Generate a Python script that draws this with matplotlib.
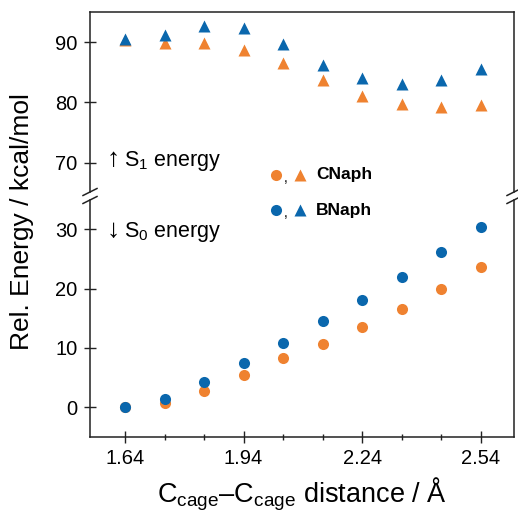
import matplotlib
matplotlib.use("Agg")
import matplotlib.pyplot as plt
from matplotlib.lines import Line2D
from matplotlib.ticker import FixedLocator

plt.rcParams["font.family"] = ["Liberation Sans", "DejaVu Sans"]
plt.rcParams["mathtext.fontset"] = "custom"
plt.rcParams["mathtext.rm"] = "Liberation Sans"
plt.rcParams["mathtext.it"] = "Liberation Sans:italic"
plt.rcParams["mathtext.bf"] = "Liberation Sans:bold"

# C_cage-C_cage distance (Å)
distance = [1.64, 1.74, 1.84, 1.94, 2.04, 2.14, 2.24, 2.34, 2.44, 2.54]

# S1 energies (kcal/mol)
s1_cnaph = [90.4, 89.9, 89.8, 88.7, 86.5, 83.7, 81.1, 79.7, 79.2, 79.6]
s1_bnaph = [90.5, 91.2, 92.6, 92.4, 89.7, 86.2, 84.0, 83.1, 83.7, 85.6]

# S0 energies (kcal/mol)
s0_cnaph = [0.0, 0.7, 2.8, 5.5, 8.3, 10.7, 13.5, 16.6, 19.9, 23.6]
s0_bnaph = [0.0, 1.4, 4.2, 7.5, 10.8, 14.5, 18.1, 22.0, 26.1, 30.3]

major_x = [1.64, 1.94, 2.24, 2.54]
minor_x = [1.74, 1.84, 2.04, 2.14, 2.34, 2.44]
top_yticks = [70, 80, 90]
bottom_yticks = [0, 10, 20, 30]

c_orange = "#EF8230"
c_blue = "#0A67AD"
c_axis = "#222222"

W, H = 518, 515
fig = plt.figure(figsize=(W / 100, H / 100), dpi=100)

left, right = 90 / W, 514 / W
ax_top = fig.add_axes([left, (H - 192) / H, right - left, 180 / H])
ax_bot = fig.add_axes([left, (H - 437) / H, right - left, 237 / H])

ms_tri = 9
ms_circ = 8
ax_top.plot(distance, s1_cnaph, ls="none", marker="^", ms=ms_tri, color=c_orange, mec="none")
ax_top.plot(distance, s1_bnaph, ls="none", marker="^", ms=ms_tri, color=c_blue, mec="none")
ax_bot.plot(distance, s0_cnaph, ls="none", marker="o", ms=ms_circ, color=c_orange, mec="none")
ax_bot.plot(distance, s0_bnaph, ls="none", marker="o", ms=ms_circ, color=c_blue, mec="none")

xlim = (1.5514, 2.6243)
ax_top.set_xlim(*xlim)
ax_bot.set_xlim(*xlim)
ax_top.set_ylim(65.1, 95.0)
ax_bot.set_ylim(-5.0, 34.9)

for ax in (ax_top, ax_bot):
    for s in ax.spines.values():
        s.set_color(c_axis)
        s.set_linewidth(1.1)
    ax.tick_params(axis="y", direction="inout", length=8, width=1.0,
                   color=c_axis, labelsize=14.5, pad=5, right=False)
ax_top.spines["bottom"].set_visible(False)
ax_bot.spines["top"].set_visible(False)
ax_top.set_yticks(top_yticks)
ax_bot.set_yticks(bottom_yticks)
ax_top.set_xticks([])
ax_top.tick_params(axis="x", which="both", bottom=False, top=False, labelbottom=False)

ax_bot.xaxis.set_major_locator(FixedLocator(major_x))
ax_bot.xaxis.set_minor_locator(FixedLocator(minor_x))
ax_bot.set_xticklabels([f"{v:.2f}" for v in major_x])
ax_bot.tick_params(axis="x", which="major", direction="inout", length=8, width=1.0,
                   color=c_axis, labelsize=14.5, pad=5, top=False)
ax_bot.tick_params(axis="x", which="minor", direction="inout", length=5, width=1.0,
                   color=c_axis, top=False)

ax_bot.set_xlabel(r"C$_\mathrm{cage}$–C$_\mathrm{cage}$ distance / Å", fontsize=19.5, labelpad=5)
fig.text(22 / W, (H - 222) / H, "Rel. Energy / kcal/mol", rotation=90,
         fontsize=19, ha="center", va="center")

# axis break marks
for xb in (90, 514):
    for yb in (192, 200):
        fig.add_artist(Line2D([(xb - 7) / W, (xb + 7) / W],
                              [(H - yb - 3.5) / H, (H - yb + 3.5) / H],
                              transform=fig.transFigure, color=c_axis, lw=1.1))

# state annotations
for arrow, label, y_arrow, y_base in ((r"$\uparrow$", r"S$_1$ energy", 158.7, 166),
                                      (r"$\downarrow$", r"S$_0$ energy", 230, 237)):
    fig.text(110.5 / W, (H - y_arrow) / H, arrow, fontsize=19, ha="center", va="center")
    fig.text(124 / W, (H - y_base) / H, label, fontsize=15.5, va="baseline")

# legend
legend_rows = [("CNaph", c_orange, 175), ("BNaph", c_blue, 210)]
for name, col, yp in legend_rows:
    yf = (H - yp) / H
    fig.add_artist(Line2D([276 / W], [yf], transform=fig.transFigure, ls="none",
                          marker="o", ms=ms_circ, color=col, mec="none"))
    fig.text(284 / W, yf - 3 / H, ",", fontsize=10, va="center")
    fig.add_artist(Line2D([300 / W], [yf], transform=fig.transFigure, ls="none",
                          marker="^", ms=ms_tri, color=col, mec="none"))
    fig.text(316 / W, yf, name, fontsize=12.5, fontweight="bold", va="center")

fig.savefig("out.png", dpi=100)
